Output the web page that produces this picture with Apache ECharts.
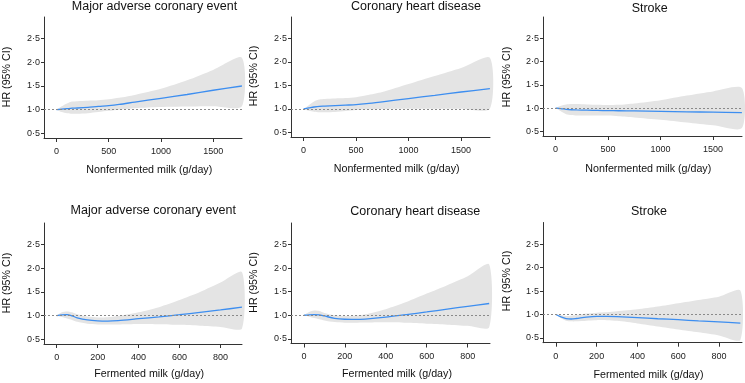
<!DOCTYPE html>
<html><head><meta charset="utf-8">
<script src="https://cdn.jsdelivr.net/npm/echarts@6/dist/echarts.min.js"></script>
<style>html,body{margin:0;padding:0;background:#fff}#c{width:745px;height:383px}</style>
</head><body><div id="c"></div>
<script>
// ---- data ----
const nonfermX = [0, 50, 100, 150, 200, 300, 400, 500, 600, 750, 1000, 1250, 1500, 1775];
const fermX    = [0, 25, 50, 75, 100, 150, 200, 250, 300, 400, 500, 600, 700, 800, 905];
const xTicksNonferm = [0, 500, 1000, 1500];
const xTicksFerm = [0, 200, 400, 600, 800];
const yTicks = [0.5, 1.0, 1.5, 2.0, 2.5];

const maceNfHR = [1.0, 1.01, 1.02, 1.03, 1.035, 1.05, 1.07, 1.085, 1.11, 1.16, 1.24, 1.32, 1.41, 1.50];
const maceNfHi = [1.0, 1.07, 1.13, 1.17, 1.18, 1.19, 1.20, 1.22, 1.25, 1.31, 1.44, 1.62, 1.84, 2.10];
const maceNfLo = [1.0, 0.95, 0.925, 0.915, 0.915, 0.925, 0.95, 0.975, 1.0, 1.03, 1.055, 1.065, 1.07, 1.07];

const chdNfHR = [1.0, 1.02, 1.04, 1.055, 1.06, 1.07, 1.08, 1.09, 1.11, 1.15, 1.22, 1.29, 1.36, 1.43];
const chdNfHi = [1.0, 1.08, 1.16, 1.20, 1.21, 1.22, 1.23, 1.25, 1.29, 1.36, 1.53, 1.70, 1.87, 2.09];
const chdNfLo = [1.0, 0.96, 0.94, 0.93, 0.93, 0.935, 0.955, 0.975, 0.99, 1.0, 1.005, 1.005, 1.005, 1.005];

const strokeNfHR = [1.0, 0.99, 0.975, 0.965, 0.96, 0.955, 0.95, 0.945, 0.943, 0.94, 0.93, 0.92, 0.913, 0.905];
const strokeNfHi = [1.0, 1.05, 1.08, 1.09, 1.09, 1.08, 1.07, 1.065, 1.07, 1.10, 1.17, 1.27, 1.36, 1.43];
const strokeNfLo = [1.0, 0.93, 0.87, 0.85, 0.84, 0.84, 0.84, 0.84, 0.825, 0.80, 0.75, 0.69, 0.63, 0.57];

const maceFHR = [1.0, 1.015, 1.02, 0.995, 0.955, 0.91, 0.89, 0.885, 0.895, 0.935, 0.975, 1.02, 1.07, 1.12, 1.18];
const maceFHi = [1.0, 1.07, 1.09, 1.07, 1.03, 0.98, 0.96, 0.965, 0.99, 1.07, 1.18, 1.33, 1.50, 1.70, 1.92];
const maceFLo = [1.0, 0.97, 0.94, 0.91, 0.87, 0.83, 0.815, 0.81, 0.815, 0.825, 0.82, 0.805, 0.785, 0.76, 0.73];

const chdFHR = [1.0, 1.01, 1.015, 1.01, 0.985, 0.935, 0.915, 0.912, 0.92, 0.96, 1.015, 1.07, 1.13, 1.19, 1.25];
const chdFHi = [1.0, 1.07, 1.10, 1.09, 1.05, 1.0, 0.985, 0.99, 1.02, 1.13, 1.28, 1.46, 1.64, 1.83, 2.08];
const chdFLo = [1.0, 0.97, 0.94, 0.915, 0.89, 0.855, 0.84, 0.84, 0.845, 0.85, 0.84, 0.82, 0.80, 0.775, 0.745];

const strokeFHR = [1.0, 0.95, 0.915, 0.905, 0.915, 0.945, 0.96, 0.96, 0.955, 0.935, 0.91, 0.89, 0.865, 0.845, 0.815];
const strokeFHi = [1.0, 0.99, 0.97, 0.975, 0.99, 1.02, 1.04, 1.05, 1.07, 1.11, 1.17, 1.24, 1.31, 1.38, 1.51];
const strokeFLo = [1.0, 0.92, 0.87, 0.855, 0.855, 0.87, 0.88, 0.88, 0.865, 0.81, 0.745, 0.68, 0.62, 0.555, 0.46];

const titles = ['Major adverse coronary event', 'Coronary heart disease', 'Stroke'];
const yName = 'HR (95% CI)';
const xNames = ['Nonfermented milk (g/day)', 'Fermented milk (g/day)'];

// ---- layout ----
const FONT = '"Liberation Sans", Arial, Helvetica, sans-serif';
const panels = [
  {x: nonfermX, hr: maceNfHR, hi: maceNfHi, lo: maceNfLo, ticks: xTicksNonferm, xmin: -120, xmax: 1776,
   g: {left: 44, top: 17, width: 198, height: 121}, t: titles[0], tp: [154.5, 7], yn: [6.7, 77], xn: xNames[0], xp: [149.3, 170]},
  {x: nonfermX, hr: chdNfHR, hi: chdNfHi, lo: chdNfLo, ticks: xTicksNonferm, xmin: -120, xmax: 1776,
   g: {left: 291, top: 17, width: 199, height: 120}, t: titles[1], tp: [416, 6.5], yn: [254.5, 76], xn: xNames[0], xp: [396.7, 169.5]},
  {x: nonfermX, hr: strokeNfHR, hi: strokeNfHi, lo: strokeNfLo, ticks: xTicksNonferm, xmin: -120, xmax: 1776,
   g: {left: 543, top: 17, width: 199, height: 119}, t: titles[2], tp: [649.7, 9], yn: [506.7, 77], xn: xNames[0], xp: [648.3, 169.5]},
  {x: fermX, hr: maceFHR, hi: maceFHi, lo: maceFLo, ticks: xTicksFerm, xmin: -62, xmax: 905,
   g: {left: 44, top: 223, width: 198, height: 121}, t: titles[0], tp: [153.3, 211], yn: [6.7, 283], xn: xNames[1], xp: [149.2, 374.5]},
  {x: fermX, hr: chdFHR, hi: chdFHi, lo: chdFLo, ticks: xTicksFerm, xmin: -63, xmax: 909,
   g: {left: 291, top: 223, width: 199, height: 120.5}, t: titles[1], tp: [415.3, 211.5], yn: [254.5, 282.5], xn: xNames[1], xp: [397, 374.5]},
  {x: fermX, hr: strokeFHR, hi: strokeFHi, lo: strokeFLo, ticks: xTicksFerm, xmin: -63, xmax: 913,
   g: {left: 543, top: 222.5, width: 199, height: 120.2}, t: titles[2], tp: [649, 211.5], yn: [506.7, 281], xn: xNames[1], xp: [648.5, 375]}
];

const grid = [], xAxis = [], yAxis = [], series = [], graphic = [];
const axisCol = '#333';
panels.forEach((p, i) => {
  grid.push(Object.assign({containLabel: false}, p.g));
  xAxis.push({
    type: 'value', gridIndex: i, min: p.xmin, max: p.xmax,
    axisLine: {show: true, onZero: false, lineStyle: {color: axisCol, width: 1}},
    axisTick: {show: true, length: 4, customValues: p.ticks, lineStyle: {color: axisCol, width: 1}},
    axisLabel: {customValues: p.ticks, fontSize: 9, color: '#222', margin: 9, fontFamily: FONT,
      formatter: v => String(v)},
    splitLine: {show: false}
  });
  yAxis.push({
    type: 'value', gridIndex: i, min: 0.4, max: 2.96,
    axisLine: {show: true, onZero: false, lineStyle: {color: axisCol, width: 1}},
    axisTick: {show: true, length: 3, customValues: yTicks, lineStyle: {color: axisCol, width: 1}},
    axisLabel: {customValues: yTicks, fontSize: 9, color: '#222', margin: 4, fontFamily: FONT,
      formatter: v => v.toFixed(1).replace('.', '\u00B7')},
    splitLine: {show: false}
  });
  const xs = p.x.slice(); xs[xs.length - 1] = Math.min(xs[xs.length - 1], p.xmax);
  const upper = xs.map((v, k) => [v, p.hi[k]]);
  const lower = xs.map((v, k) => [v, p.lo[k]]);
  series.push({
    type: 'custom', xAxisIndex: i, yAxisIndex: i, data: [0], silent: true, z: 1,
    renderItem: (params, api) => {
      const up = upper.map(d => api.coord(d));
      const lo = lower.map(d => api.coord(d)).reverse();
      return {type: 'polygon', shape: {points: up.concat(lo), smooth: 0.25}, style: {fill: '#e4e4e4'}};
    }
  });
  series.push({
    type: 'line', xAxisIndex: i, yAxisIndex: i, z: 3,
    data: xs.map((v, k) => [v, p.hr[k]]),
    showSymbol: false, smooth: 0.3, silent: true,
    lineStyle: {color: '#3d8ef0', width: 1.3},
    markLine: {silent: true, symbol: 'none', label: {show: false},
      lineStyle: {color: '#8a8a8a', type: [2, 2], width: 1},
      data: [{yAxis: 1}]}
  });
  graphic.push({type: 'text', x: p.tp[0], y: p.tp[1],
    style: {text: p.t, fill: '#111', fontSize: 12.5, fontFamily: FONT, align: 'center', verticalAlign: 'middle'}});
  graphic.push({type: 'text', x: p.yn[0], y: p.yn[1], rotation: Math.PI / 2,
    style: {text: yName, fill: '#111', fontSize: 10.7, fontFamily: FONT, align: 'center', verticalAlign: 'middle'}});
  graphic.push({type: 'text', x: p.xp[0], y: p.xp[1],
    style: {text: p.xn, fill: '#111', fontSize: 10.7, fontFamily: FONT, align: 'center', verticalAlign: 'middle'}});
});

const chart = echarts.init(document.getElementById('c'), null, {renderer: 'canvas'});
chart.setOption({
  backgroundColor: '#fff', animation: false,
  grid, xAxis, yAxis, series, graphic
});
</script></body></html>
